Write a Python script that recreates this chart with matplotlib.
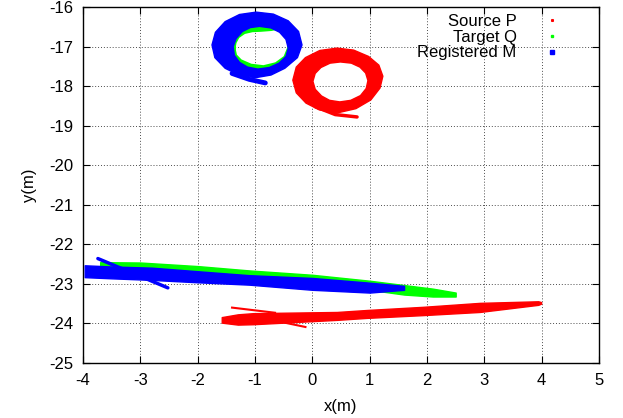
import numpy as np
import matplotlib.pyplot as plt
from matplotlib.path import Path
from matplotlib.patches import PathPatch

plt.rcParams['font.family'] = ['Liberation Sans', 'DejaVu Sans']
plt.rcParams['font.size'] = 12
plt.rcParams['axes.unicode_minus'] = False

# ---- Source P (red) ----
p_ring_out_x = [-0.34, -0.28, -0.12, 0.13, 0.43, 0.72, 0.98, 1.16,
                1.23, 1.18, 1.02, 0.76, 0.43, 0.12, -0.11, -0.28]
p_ring_out_y = [-17.85, -17.52, -17.28, -17.10, -17.04, -17.09, -17.25, -17.47,
                -17.75, -18.05, -18.35, -18.57, -18.68, -18.60, -18.43, -18.17]
p_ring_in_x = [0.01, 0.05, 0.15, 0.31, 0.49, 0.68, 0.83, 0.93,
               0.97, 0.94, 0.84, 0.67, 0.48, 0.30, 0.16, 0.05]
p_ring_in_y = [-17.88, -17.68, -17.53, -17.42, -17.39, -17.42, -17.52, -17.67,
               -17.86, -18.06, -18.24, -18.36, -18.40, -18.36, -18.25, -18.08]
p_tail_x = [0.05, 0.40, 0.78]
p_tail_y = [-18.52, -18.72, -18.78]

p_band_x = [-1.58, -1.30, -1.03, 0.43, 0.95, 1.93, 2.92, 3.94, 3.99]
p_band_hi = [-23.84, -23.77, -23.74, -23.71, -23.66, -23.58, -23.48, -23.44, -23.46]
p_band_lo = [-23.98, -24.03, -24.02, -23.91, -23.86, -23.79, -23.71, -23.53, -23.50]
p_spur1_x = [-1.40, -0.65]
p_spur1_y = [-23.60, -23.73]
p_spur2_x = [-0.65, -0.12]
p_spur2_y = [-23.93, -24.09]

# ---- Target Q (green) ----
q_ring_x = [-1.40, -1.38, -1.32, -1.20, -1.05, -0.90, -0.72, -0.55, -0.42,
            -0.37, -0.38, -0.45, -0.62, -0.85, -1.08, -1.27, -1.37]
q_ring_y = [-17.05, -16.88, -16.72, -16.60, -16.55, -16.54, -16.52, -16.47, -16.55,
            -16.78, -17.05, -17.30, -17.48, -17.56, -17.52, -17.40, -17.25]

q_band_x = [-3.70, -3.00, -2.00, -1.10, 0.00, 1.00, 1.60, 2.10, 2.50]
q_band_hi = [-22.45, -22.46, -22.55, -22.66, -22.77, -22.92, -23.03, -23.12, -23.22]
q_band_lo = [-22.64, -22.70, -22.80, -22.88, -22.98, -23.15, -23.27, -23.32, -23.32]

# ---- Registered M (blue) ----
m_ring_out_x = [-1.75, -1.69, -1.52, -1.27, -0.98, -0.68, -0.42, -0.24,
                -0.18, -0.26, -0.48, -0.72, -1.00, -1.28, -1.52, -1.70]
m_ring_out_y = [-16.96, -16.64, -16.37, -16.19, -16.13, -16.18, -16.35, -16.62,
                -16.96, -17.28, -17.55, -17.72, -17.79, -17.72, -17.55, -17.28]
m_ring_in_x = [-1.38, -1.33, -1.22, -1.08, -0.92, -0.72, -0.57, -0.46,
               -0.42, -0.46, -0.58, -0.75, -0.95, -1.13, -1.27, -1.36]
m_ring_in_y = [-17.00, -16.80, -16.62, -16.52, -16.49, -16.53, -16.64, -16.82,
               -17.04, -17.25, -17.42, -17.53, -17.57, -17.52, -17.40, -17.22]
m_tail_x = [-1.40, -1.10, -0.82]
m_tail_y = [-17.68, -17.83, -17.92]

m_band_x = [-3.97, -3.50, -2.80, -2.00, -1.10, 0.00, 1.00, 1.60]
m_band_hi = [-22.53, -22.56, -22.59, -22.68, -22.78, -22.85, -22.97, -23.05]
m_band_lo = [-22.83, -22.86, -22.90, -22.96, -23.02, -23.15, -23.22, -23.15]
m_spur_x = [-3.74, -2.52]
m_spur_y = [-22.36, -23.10]

x_ticks = list(range(-4, 6))
y_ticks = list(range(-25, -15))


def ring(ax, ox, oy, ix, iy, color, z):
    outer = np.column_stack([ox + ox[:1], oy + oy[:1]])
    inner = np.column_stack([ix + ix[:1], iy + iy[:1]])[::-1]
    verts = np.concatenate([outer, inner])
    codes = ([Path.MOVETO] + [Path.LINETO] * (len(outer) - 2) + [Path.CLOSEPOLY]
             + [Path.MOVETO] + [Path.LINETO] * (len(inner) - 2) + [Path.CLOSEPOLY])
    ax.add_patch(PathPatch(Path(verts, codes), facecolor=color, edgecolor=color,
                           lw=1.0, joinstyle='round', zorder=z))


fig = plt.figure(figsize=(6.23, 4.18), dpi=100)
ax = fig.add_axes([0.1332, 0.1316, 0.8283, 0.8517])

red, green, blue = '#ff0000', '#00ff00', '#0000ff'

# source
ring(ax, p_ring_out_x, p_ring_out_y, p_ring_in_x, p_ring_in_y, red, 3)
ax.plot(p_tail_x, p_tail_y, color=red, lw=2.5, solid_capstyle='round', zorder=3)
ax.fill_between(p_band_x, p_band_lo, p_band_hi, color=red, lw=1, zorder=3)
ax.plot(p_spur1_x, p_spur1_y, color=red, lw=1.5, zorder=3)
ax.plot(p_spur2_x, p_spur2_y, color=red, lw=1.5, zorder=3)

# target
ax.plot(q_ring_x + q_ring_x[:1], q_ring_y + q_ring_y[:1], color=green, lw=5,
        solid_joinstyle='round', zorder=4)
ax.fill_between(q_band_x, q_band_lo, q_band_hi, color=green, lw=1, zorder=4)

# registered
ring(ax, m_ring_out_x, m_ring_out_y, m_ring_in_x, m_ring_in_y, blue, 5)
ax.plot(m_tail_x, m_tail_y, color=blue, lw=3.5, solid_capstyle='round', zorder=5)
ax.fill_between(m_band_x, m_band_lo, m_band_hi, color=blue, lw=1, zorder=5)
ax.plot(m_spur_x, m_spur_y, color=blue, lw=2.5, solid_capstyle='round', zorder=5)

# legend proxies
ax.plot([], [], 's', color=red, ms=1.2, label='Source P')
ax.plot([], [], 's', color=green, ms=2, label='Target Q')
ax.plot([], [], 's', color=blue, ms=3, label='Registered M')
ax.legend(loc='upper right', bbox_to_anchor=(0.934, 0.995), frameon=False,
          markerfirst=False, handlelength=1.0, handletextpad=1.6,
          labelspacing=0.05, borderpad=0.3, borderaxespad=0)

ax.set_xlim(-4, 5)
ax.set_ylim(-25, -16)
ax.set_xticks(x_ticks)
ax.set_yticks(y_ticks)
ax.grid(True, color='0.3', linestyle=(0, (1, 2)), lw=0.7, zorder=0)
ax.set_axisbelow(True)
ax.tick_params(direction='in', top=True, right=True, length=5, width=0.8, pad=7)
for s in ax.spines.values():
    s.set_linewidth(1.0)
ax.set_xlabel('x(m)', labelpad=8)
ax.set_ylabel('y(m)', labelpad=9)

fig.savefig('out.png', dpi=100)
